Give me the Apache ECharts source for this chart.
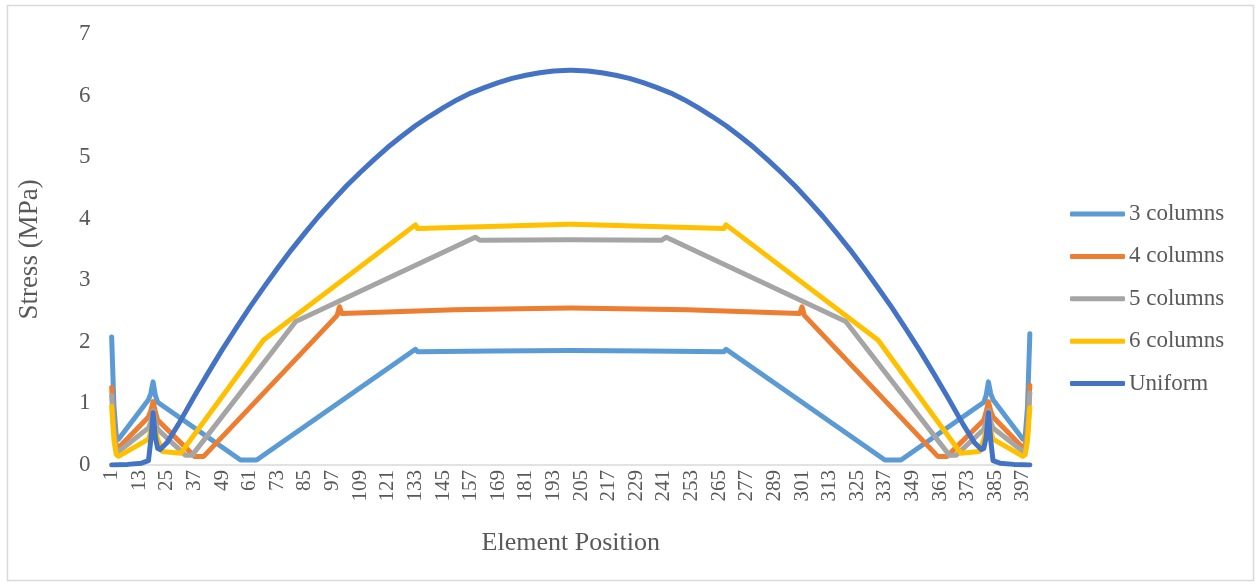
<!DOCTYPE html>
<html>
<head>
<meta charset="utf-8">
<title>Stress along element position</title>
<script src="https://cdn.jsdelivr.net/npm/echarts@6/dist/echarts.min.js"></script>
<style>
  html, body { margin: 0; padding: 0; background: #ffffff; }
  #chart { width: 1258px; height: 586px; }
</style>
</head>
<body>
<div id="chart"></div>
<script>
// Element positions along the member (1 … 400); every 12th is labelled.
const positions = Array.from({ length: 400 }, (_, i) => String(i + 1));

const seriesNames = ['3 columns', '4 columns', '5 columns', '6 columns', 'Uniform'];

// Stress (MPa) at the element positions where each curve changes course,
// as [position, stress]; the line runs straight between neighbours.
const stress3Columns = [
  [1, 2.08], [2, 0.95], [3, 0.47], [4, 0.42], [17, 1.06], [18, 1.16], [19, 1.35],
  [20, 1.13], [21, 1.02], [57, 0.08], [64, 0.08], [133, 1.88], [134, 1.84],
  [167, 1.85], [200, 1.86], [201, 1.86], [234, 1.85], [267, 1.84], [268, 1.88],
  [337, 0.08], [344, 0.08], [380, 1.02], [381, 1.13], [382, 1.35], [383, 1.16],
  [384, 1.06], [397, 0.42], [398, 0.47], [399, 0.95], [400, 2.13]
];

const stress4Columns = [
  [1, 1.26], [2, 0.62], [3, 0.31], [4, 0.28], [17, 0.78], [18, 0.88], [19, 1.03],
  [20, 0.86], [21, 0.73], [37, 0.14], [41, 0.14], [99, 2.43], [100, 2.57],
  [101, 2.46], [150, 2.52], [200, 2.55], [201, 2.55], [251, 2.52], [300, 2.46],
  [301, 2.57], [302, 2.43], [360, 0.14], [364, 0.14], [380, 0.73], [381, 0.86],
  [382, 1.03], [383, 0.88], [384, 0.78], [397, 0.28], [398, 0.31], [399, 0.62],
  [400, 1.29]
];

const stress5Columns = [
  [1, 1.13], [2, 0.52], [3, 0.25], [4, 0.22], [17, 0.60], [18, 0.70], [19, 0.88],
  [20, 0.70], [21, 0.58], [33, 0.16], [36, 0.16], [81, 2.33], [159, 3.70],
  [161, 3.65], [200, 3.66], [201, 3.66], [240, 3.65], [242, 3.70], [320, 2.33],
  [365, 0.16], [368, 0.16], [380, 0.58], [381, 0.70], [382, 0.88], [383, 0.70],
  [384, 0.60], [397, 0.22], [398, 0.25], [399, 0.52], [400, 1.17]
];

const stress6Columns = [
  [1, 0.95], [2, 0.40], [3, 0.17], [4, 0.14], [17, 0.42], [18, 0.55], [19, 0.72],
  [20, 0.55], [21, 0.42], [23, 0.22], [31, 0.19], [67, 2.03], [133, 3.90],
  [134, 3.84], [200, 3.91], [201, 3.91], [267, 3.84], [268, 3.90], [334, 2.03],
  [370, 0.19], [378, 0.22], [380, 0.42], [381, 0.55], [382, 0.72], [383, 0.55],
  [384, 0.42], [397, 0.14], [398, 0.17], [399, 0.40], [400, 0.93]
];

const stressUniform = [
  [1, 0.00], [8, 0.01], [14, 0.03], [17, 0.07], [18, 0.40], [19, 0.85], [20, 0.45],
  [21, 0.27], [22, 0.25], [25, 0.36], [30, 0.66], [37, 1.12], [43, 1.50],
  [49, 1.87], [55, 2.22], [61, 2.56], [67, 2.88], [73, 3.19], [79, 3.49],
  [85, 3.77], [91, 4.04], [97, 4.29], [103, 4.53], [109, 4.75], [115, 4.96],
  [121, 5.16], [127, 5.34], [133, 5.51], [139, 5.66], [145, 5.80], [151, 5.93],
  [157, 6.04], [163, 6.13], [169, 6.21], [175, 6.28], [181, 6.33], [187, 6.37],
  [193, 6.40], [200, 6.41], [201, 6.41], [208, 6.40], [214, 6.37], [220, 6.33],
  [226, 6.28], [232, 6.21], [238, 6.13], [244, 6.04], [250, 5.93], [256, 5.80],
  [262, 5.66], [268, 5.51], [274, 5.34], [280, 5.16], [286, 4.96], [292, 4.75],
  [298, 4.53], [304, 4.29], [310, 4.04], [316, 3.77], [322, 3.49], [328, 3.19],
  [334, 2.88], [340, 2.56], [346, 2.22], [352, 1.87], [358, 1.50], [364, 1.12],
  [371, 0.66], [376, 0.36], [379, 0.25], [380, 0.27], [381, 0.45], [382, 0.85],
  [383, 0.40], [384, 0.07], [387, 0.03], [393, 0.01], [400, 0.00]
];

const yTicks = [0, 1, 2, 3, 4, 5, 6, 7];

const palette = ['#5B9BD5', '#ED7D31', '#A5A5A5', '#FFC000', '#4472C4'];
const seriesData = [stress3Columns, stress4Columns, stress5Columns, stress6Columns, stressUniform];

const serif = '"Times New Roman", "Liberation Serif", serif';
const textGray = '#595959';

const chart = echarts.init(document.getElementById('chart'), null, { renderer: 'canvas' });

chart.setOption({
  backgroundColor: '#ffffff',
  animation: false,
  color: palette,
  graphic: [{
    type: 'rect',
    shape: { x: 7.5, y: 5.5, width: 1246, height: 575 },
    style: { fill: 'none', stroke: '#D9D9D9', lineWidth: 1.5 },
    silent: true
  }],
  grid: { left: 110.5, right: 227, top: 34, bottom: 121 },
  legend: {
    orient: 'vertical',
    left: 1065,
    top: 197,
    icon: 'roundRect',
    itemWidth: 55,
    itemHeight: 5,
    itemGap: 18.4,
    textStyle: { fontFamily: serif, fontSize: 23, color: textGray, lineHeight: 24, padding: [0, 0, 0, -1] },
    data: seriesNames
  },
  xAxis: {
    type: 'category',
    data: positions,
    boundaryGap: true,
    name: 'Element Position',
    nameLocation: 'middle',
    nameGap: 65,
    nameTextStyle: { fontFamily: serif, fontSize: 26, color: textGray },
    axisLine: { lineStyle: { color: '#D9D9D9', width: 1.5 } },
    axisTick: { show: false },
    axisLabel: {
      interval: 11,
      rotate: 90,
      margin: 5,
      fontFamily: serif,
      fontSize: 21,
      color: textGray
    },
    splitLine: { show: false }
  },
  yAxis: {
    type: 'value',
    min: yTicks[0],
    max: yTicks[yTicks.length - 1],
    interval: 1,
    name: 'Stress (MPa)',
    nameLocation: 'middle',
    nameGap: 67,
    nameRotate: 90,
    nameTextStyle: { fontFamily: serif, fontSize: 27, color: textGray },
    axisLine: { show: false },
    axisTick: { show: false },
    axisLabel: { margin: 20, fontFamily: serif, fontSize: 23, color: textGray },
    splitLine: { show: false }
  },
  series: seriesNames.map((name, i) => ({
    name,
    type: 'line',
    data: seriesData[i].map(([p, v]) => [String(p), v]),
    symbol: 'none',
    smooth: false,
    lineStyle: { width: 5, color: palette[i], cap: 'round', join: 'round' },
    itemStyle: { color: palette[i] },
    z: 2 + i
  }))
});
</script>
</body>
</html>
